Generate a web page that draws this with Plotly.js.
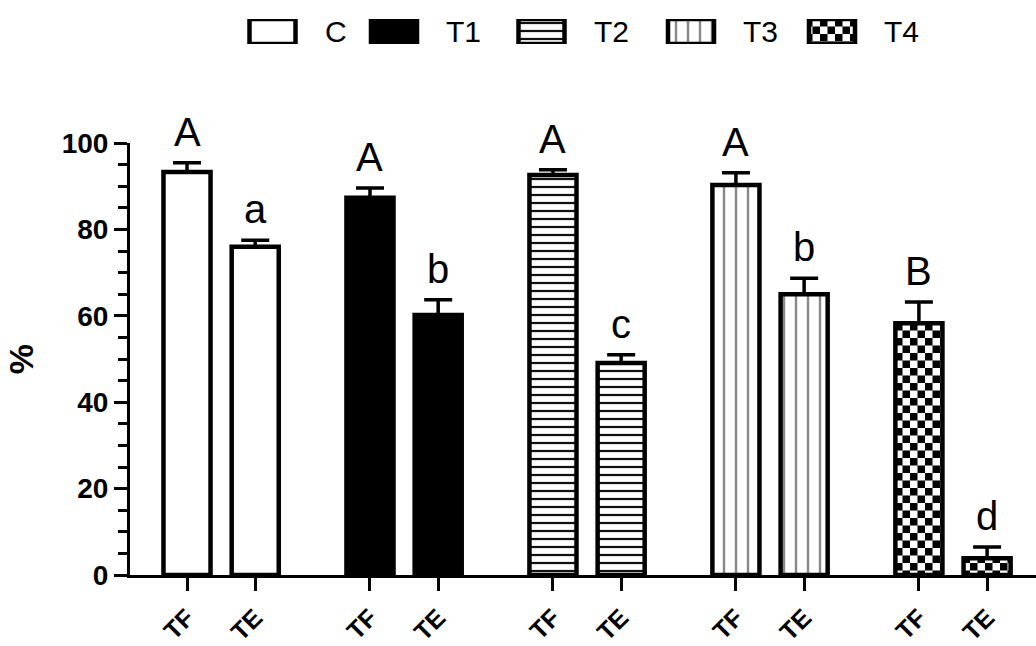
<!DOCTYPE html>
<html>
<head>
<meta charset="utf-8">
<script src="https://cdn.plot.ly/plotly-3.0.1.min.js"></script>
<style>
  html, body { margin: 0; padding: 0; background: #fff; }
  #chart { width: 1036px; height: 646px; }
</style>
</head>
<body>
<div id="chart"></div>
<script>
// Treatment groups and the two stages measured in each
const groups = ['C', 'T1', 'T2', 'T3', 'T4'];
const stages = ['TF', 'TE'];

// Mean percentage per group for each stage
const meanTF = [93.3, 87.3, 92.6, 90.3, 58.3];
const meanTE = [76.0, 60.2, 49.1, 65.0, 3.9];

// Upper error (SE) per group for each stage
const errTF = [2.1, 2.3, 1.2, 2.8, 4.9];
const errTE = [1.5, 3.5, 1.9, 3.7, 2.6];

// Significance letters shown above the bars
const lettersTF = ['A', 'A', 'A', 'A', 'B'];
const lettersTE = ['a', 'b', 'c', 'b', 'd'];

// Y axis ticks
const yTicks = [0, 20, 40, 60, 80, 100];

const FONT = '"Liberation Sans", Arial, Helvetica, sans-serif';

// Fill style of each group
function fillStyle(name) {
  const border = { color: '#000', width: 4.5 };
  switch (name) {
    case 'C':
      return { color: '#fff', line: border };
    case 'T1':
      return { color: '#000', line: border };
    case 'T2':
      return { color: '#fff', line: border,
        pattern: { shape: '-', size: 8, solidity: 0.28, fgcolor: '#111', fgopacity: 1, bgcolor: '#fff', fillmode: 'overlay' } };
    case 'T3':
      return { color: '#fff', line: border,
        pattern: { shape: '|', size: 12, solidity: 0.2, fgcolor: '#888', fgopacity: 1, bgcolor: '#fff', fillmode: 'overlay' } };
    case 'T4':
      return { color: '#fff', line: border,
        pattern: { path: 'M0,0H7.5V7.5H0Z M7.5,7.5H15V15H7.5Z', size: 15, solidity: 1, fgcolor: '#000', fgopacity: 1, bgcolor: '#fff', fillmode: 'overlay' } };
  }
}

// Bar placement: two stages per group, groups separated by a wider gap
const groupStep = 2.683;
const barWidth = 0.69;
function xPos(g, s) { return g * groupStep + s; }

const traces = [];
const annotations = [];
const tickVals = [];
const tickText = [];

groups.forEach((name, g) => {
  const xs = stages.map((s, k) => xPos(g, k));
  const ys = [meanTF[g], meanTE[g]];
  const es = [errTF[g], errTE[g]];
  traces.push({
    type: 'bar',
    name: name,
    x: xs,
    y: ys,
    width: barWidth,
    marker: fillStyle(name),
    error_y: {
      type: 'data', symmetric: false, array: es, arrayminus: [0, 0],
      color: '#000', thickness: 3.5, width: 14
    },
    showlegend: false,
    hoverinfo: 'x+y'
  });
  stages.forEach((s, k) => {
    tickVals.push(xs[k]);
    tickText.push(s);
    annotations.push({
      x: xs[k], y: ys[k] + es[k], xref: 'x', yref: 'y',
      text: k === 0 ? lettersTF[g] : lettersTE[g],
      showarrow: false, yanchor: 'bottom', yshift: 7,
      font: { family: FONT, size: 40, color: '#000' }
    });
  });
});

// Legend row drawn as swatch bars on a separate pixel-scaled axis pair
const legendCenter = [272.5, 394, 541.5, 691, 832];
groups.forEach((name, i) => {
  traces.push({
    type: 'bar',
    x: [legendCenter[i]],
    y: [1],
    width: 46,
    xaxis: 'x2',
    yaxis: 'y2',
    marker: fillStyle(name),
    showlegend: false,
    hoverinfo: 'skip'
  });
  annotations.push({
    x: legendCenter[i] + 50, y: 0.5, xref: 'x2', yref: 'y2',
    text: name, showarrow: false, xanchor: 'left', yanchor: 'middle',
    font: { family: FONT, size: 30, color: '#000' }
  });
});

const plotH = 575;
const layout = {
  width: 1036,
  height: 646,
  margin: { l: 130, r: 0, t: 0, b: 71, pad: 0 },
  paper_bgcolor: '#fff',
  plot_bgcolor: '#fff',
  barmode: 'overlay',
  showlegend: false,
  font: { family: FONT, color: '#000' },
  xaxis: {
    domain: [0, 1],
    range: [-0.836, 12.449],
    showline: true, linecolor: '#000', linewidth: 3,
    ticks: 'outside', ticklen: 13, tickwidth: 3, tickcolor: '#000',
    tickvals: tickVals, ticktext: tickText, tickangle: -45,
    ticklabelstandoff: 2,
    tickfont: { family: FONT, size: 25, weight: 'bold', color: '#000' },
    showgrid: false, zeroline: false, automargin: false, fixedrange: true
  },
  yaxis: {
    domain: [0, 432 / plotH],
    range: [0, 100],
    showline: true, linecolor: '#000', linewidth: 3,
    ticks: 'outside', ticklen: 13, tickwidth: 3, tickcolor: '#000',
    tickvals: yTicks,
    minor: { dtick: 5, ticks: 'outside', ticklen: 9, tickwidth: 3, tickcolor: '#000' },
    tickfont: { family: FONT, size: 28, weight: 'bold', color: '#000' },
    title: { text: '%', font: { family: FONT, size: 34, weight: 'bold', color: '#000' }, standoff: 18 },
    showgrid: false, zeroline: false, automargin: false, fixedrange: true
  },
  xaxis2: {
    domain: [0, 1], range: [130, 1036], anchor: 'y2',
    visible: false, fixedrange: true
  },
  yaxis2: {
    domain: [(plotH - 44) / plotH, (plotH - 19) / plotH], range: [0, 1], anchor: 'x2',
    visible: false, fixedrange: true
  },
  annotations: annotations
};

Plotly.newPlot('chart', traces, layout, { displayModeBar: false, staticPlot: true });
</script>
</body>
</html>
